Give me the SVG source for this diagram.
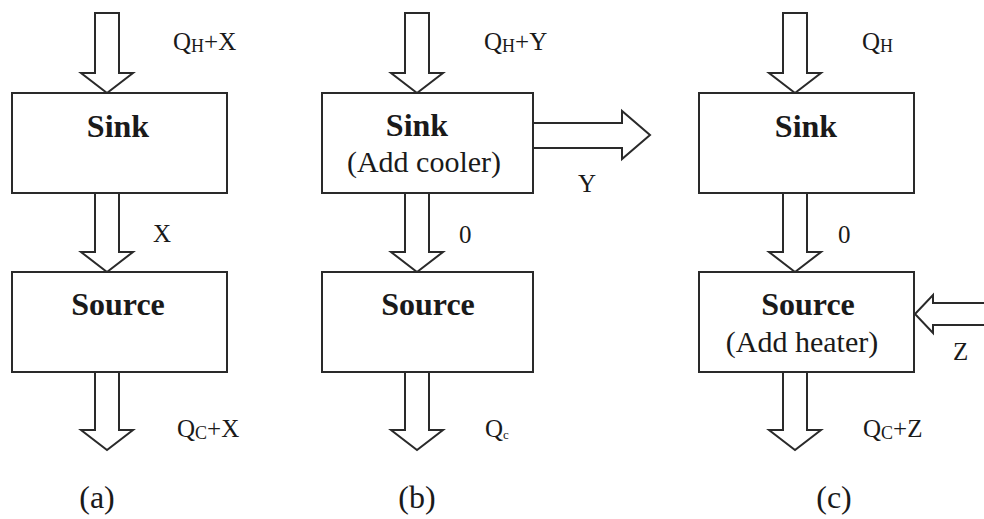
<svg xmlns="http://www.w3.org/2000/svg" width="984" height="519" viewBox="0 0 984 519">
<style>
.box{fill:#fff;stroke:#2a2a2a;stroke-width:2}
.arr{fill:#fff;stroke:#2a2a2a;stroke-width:2;stroke-linejoin:miter}
text{font-family:'Liberation Serif','Times New Roman','DejaVu Serif',serif;fill:#1a1a1a}
.bold{font-weight:bold;font-size:32px;text-anchor:middle}
.sub{font-size:30px;text-anchor:middle}
.lbl{font-size:25px}
.cap{font-size:32px;text-anchor:middle}
</style>
<rect width="984" height="519" fill="#fff"/>
<g id="connectors">
  <polygon class="arr" points="95,13 119,13 119,73 133,73 107,93 81,73 95,73"/>
  <polygon class="arr" points="95,193 119,193 119,252 133,252 107,272 81,252 95,252"/>
  <polygon class="arr" points="95,372 119,372 119,430 133,430 107,450 81,430 95,430"/>
  <polygon class="arr" points="405,13 429,13 429,73 443,73 417,93 391,73 405,73"/>
  <polygon class="arr" points="405,193 429,193 429,252 443,252 417,272 391,252 405,252"/>
  <polygon class="arr" points="405,372 429,372 429,430 443,430 417,450 391,430 405,430"/>
  <polygon class="arr" points="533,123 622,123 622,111 650,135 622,159 622,148 533,148"/>
  <polygon class="arr" points="783,13 807,13 807,73 821,73 795,93 769,73 783,73"/>
  <polygon class="arr" points="783,193 807,193 807,252 821,252 795,272 769,252 783,252"/>
  <polygon class="arr" points="783,372 807,372 807,430 821,430 795,450 769,430 783,430"/>
  <polyline class="arr" points="990,303 933,303 933,295 915,314 933,333 933,325 990,325"/>
</g>
<g id="sink-a">
  <rect class="box" x="12" y="93" width="215" height="100"/>
  <text class="bold" x="118" y="137">Sink</text>
</g>
<g id="source-a">
  <rect class="box" x="12" y="272" width="215" height="100"/>
  <text class="bold" x="118" y="315">Source</text>
</g>
<g id="sink-b">
  <rect class="box" x="322" y="93" width="211" height="100"/>
  <text class="bold" x="417" y="136">Sink</text>
  <text class="sub" x="424" y="172">(Add cooler)</text>
</g>
<g id="source-b">
  <rect class="box" x="322" y="272" width="211" height="100"/>
  <text class="bold" x="428" y="315">Source</text>
</g>
<g id="sink-c">
  <rect class="box" x="699" y="93" width="215" height="100"/>
  <text class="bold" x="806" y="137">Sink</text>
</g>
<g id="source-c">
  <rect class="box" x="699" y="272" width="215" height="100"/>
  <text class="bold" x="808" y="315">Source</text>
  <text class="sub" x="802" y="352">(Add heater)</text>
</g>
<g id="labels">
  <text class="lbl" x="173" y="50">Q<tspan font-size="18" dy="2">H</tspan><tspan dy="-2">+X</tspan></text>
  <text class="lbl" x="153" y="242">X</text>
  <text class="lbl" x="177" y="437">Q<tspan font-size="18" dy="2">C</tspan><tspan dy="-2">+X</tspan></text>
  <text class="lbl" x="484" y="50">Q<tspan font-size="18" dy="2">H</tspan><tspan dy="-2">+Y</tspan></text>
  <text class="lbl" x="578" y="192">Y</text>
  <text class="lbl" x="459" y="243">0</text>
  <text class="lbl" x="485" y="437" font-size="22">Q<tspan font-size="13" dy="2">c</tspan></text>
  <text class="lbl" x="862" y="50">Q<tspan font-size="18" dy="2">H</tspan></text>
  <text class="lbl" x="838" y="243">0</text>
  <text class="lbl" x="953" y="360" font-size="22">Z</text>
  <text class="lbl" x="863" y="437">Q<tspan font-size="18" dy="2">C</tspan><tspan dy="-2">+Z</tspan></text>
  <text class="cap" x="97" y="508">(a)</text>
  <text class="cap" x="417" y="508">(b)</text>
  <text class="cap" x="834" y="508">(c)</text>
</g>
</svg>
